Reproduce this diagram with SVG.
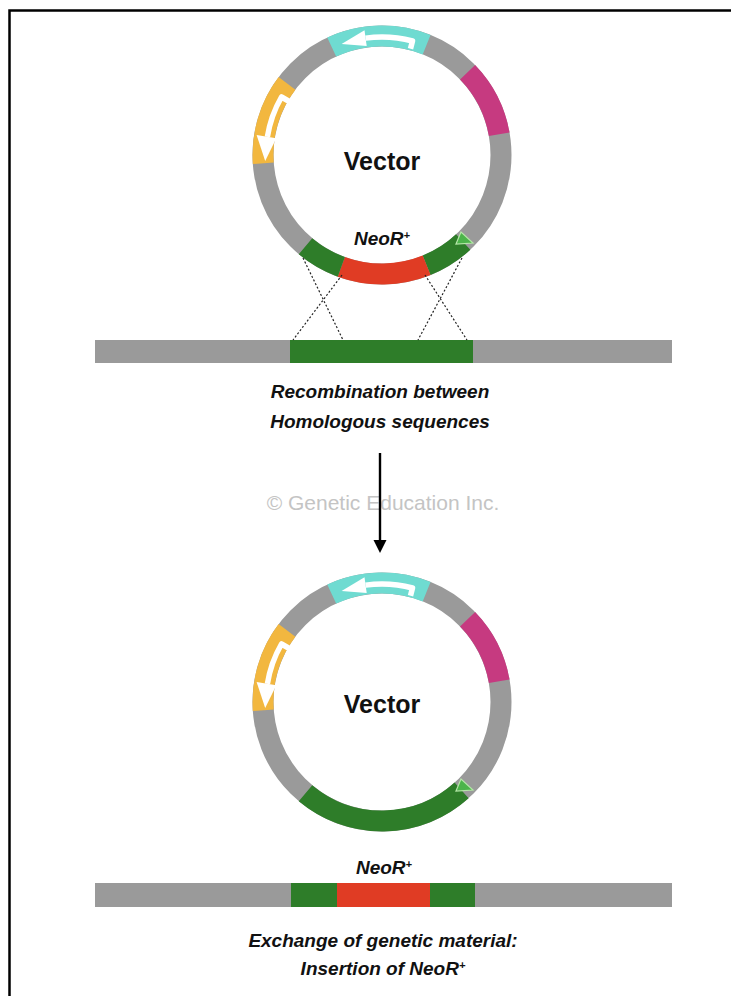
<svg xmlns="http://www.w3.org/2000/svg" width="731" height="996" viewBox="0 0 731 996">
  <style>
    .ring { fill: none; stroke-width: 21; }
    .gray { stroke: #9a9a9a; }
    .cyan { stroke: #6fdbd1; }
    .magenta { stroke: #c63a80; }
    .yellow { stroke: #f2b73f; }
    .dkgreen { stroke: #2e7d29; }
    .red { stroke: #e03c24; }
    .arrow-body { fill: none; stroke: #ffffff; stroke-width: 5.5; stroke-linejoin: round; }
    .arrow-head { fill: #ffffff; }
    .site { fill: #4cb44a; stroke: #b5e6a8; stroke-width: 1.2; }
    .title { font-family: "Liberation Sans", Arial, sans-serif; font-weight: bold; font-size: 25px; fill: #111; text-anchor: middle; }
    .lbl { font-family: "Liberation Sans", Arial, sans-serif; font-weight: bold; font-style: italic; font-size: 19px; fill: #111; text-anchor: middle; }
    .sup { font-size: 11px; }
    .mark { font-family: "Liberation Sans", Arial, sans-serif; font-size: 21px; fill: #c4c4c4; text-anchor: middle; }
    .dot { fill: none; stroke: #222; stroke-width: 1.2; stroke-dasharray: 2 2; }
    .bar-gray { fill: #9a9a9a; }
    .bar-green { fill: #2e7d29; }
    .bar-red { fill: #e03c24; }
  </style>
  <defs>
    <!-- shared plasmid backbone: gray ring with cyan, magenta and yellow features -->
    <g id="plasmid-base">
      <circle r="119" class="ring gray"/>
      <path class="ring cyan" d="M -50.3 -107.9 A 119 119 0 0 1 44.6 -110.3"/>
      <path class="ring magenta" d="M 85.6 -82.7 A 119 119 0 0 1 117.2 -20.7"/>
      <path class="ring yellow" d="M -118.7 8.3 A 119 119 0 0 1 -95.0 -71.6"/>
      <!-- direction arrows inside the cyan and yellow features -->
      <path class="arrow-body" d="M 28.5 -106.3 L 30.5 -114 A 118 118 0 0 0 -16.4 -116.9"/>
      <polygon class="arrow-head" points="-15.3,-108.9 -17.5,-124.8 -40.4,-110.9"/>
      <path class="arrow-body" d="M -91.8 -53 L -100.5 -58 A 116 116 0 0 0 -114.6 -18.1"/>
      <polygon class="arrow-head" points="-105.7,-16.7 -125.4,-19.9 -116.8,6.1"/>
    </g>
  </defs>

  <!-- frame -->
  <path d="M 9.5 996 L 9.5 10.5 L 731 10.5" fill="none" stroke="#000" stroke-width="2.5"/>

  <!-- upper vector with NeoR+ flanked by homology arms -->
  <g id="vector-top" transform="translate(382,155)">
    <use href="#plasmid-base"/>
    <path class="ring dkgreen" d="M 81.2 87.0 A 119 119 0 0 1 44.6 110.3"/>
    <path class="ring red" d="M 44.6 110.3 A 119 119 0 0 1 -40.7 111.8"/>
    <path class="ring dkgreen" d="M -40.7 111.8 A 119 119 0 0 1 -76.5 91.2"/>
    <polygon class="site" points="74,89 79,77 91,88"/>
    <text class="title" x="0" y="15">Vector</text>
    <text class="lbl" x="0" y="90">NeoR<tspan class="sup" dy="-6">+</tspan></text>
  </g>

  <!-- genomic locus before recombination -->
  <g id="locus-top">
    <rect class="bar-gray" x="95" y="340" width="577" height="23"/>
    <rect class="bar-green" x="290" y="340" width="183" height="23"/>
  </g>

  <g id="caption-top">
    <text class="lbl" x="380" y="398">Recombination between</text>
    <text class="lbl" x="380" y="428">Homologous sequences</text>
  </g>

  <text class="mark" x="383" y="510">© Genetic Education Inc.</text>

  <!-- lower vector after exchange -->
  <g id="vector-bottom" transform="translate(382,702)">
    <use href="#plasmid-base"/>
    <path class="ring dkgreen" d="M 79.6 88.4 A 119 119 0 0 1 -76.5 91.2"/>
    <polygon class="site" points="74,89 79,77 91,88"/>
    <text class="title" x="0" y="11">Vector</text>
  </g>

  <!-- genomic locus after insertion -->
  <g id="locus-bottom">
    <text class="lbl" x="384" y="874">NeoR<tspan class="sup" dy="-6">+</tspan></text>
    <rect class="bar-gray" x="95" y="883" width="577" height="24"/>
    <rect class="bar-green" x="291" y="883" width="46" height="24"/>
    <rect class="bar-red" x="337" y="883" width="93" height="24"/>
    <rect class="bar-green" x="430" y="883" width="45" height="24"/>
  </g>

  <g id="caption-bottom">
    <text class="lbl" x="383" y="947">Exchange of genetic material:</text>
    <text class="lbl" x="383" y="975">Insertion of NeoR<tspan class="sup" dy="-6">+</tspan></text>
  </g>

  <!-- crossover lines and process arrow -->
  <g id="connectors">
    <line class="dot" x1="303" y1="258" x2="343" y2="340"/>
    <line class="dot" x1="342" y1="275" x2="293" y2="340"/>
    <line class="dot" x1="425" y1="275" x2="467" y2="340"/>
    <line class="dot" x1="462" y1="258" x2="418" y2="340"/>
    <line x1="380" y1="453" x2="380" y2="542" stroke="#000" stroke-width="2.4"/>
    <polygon points="373.5,540 386.5,540 380,553" fill="#000"/>
  </g>
</svg>
